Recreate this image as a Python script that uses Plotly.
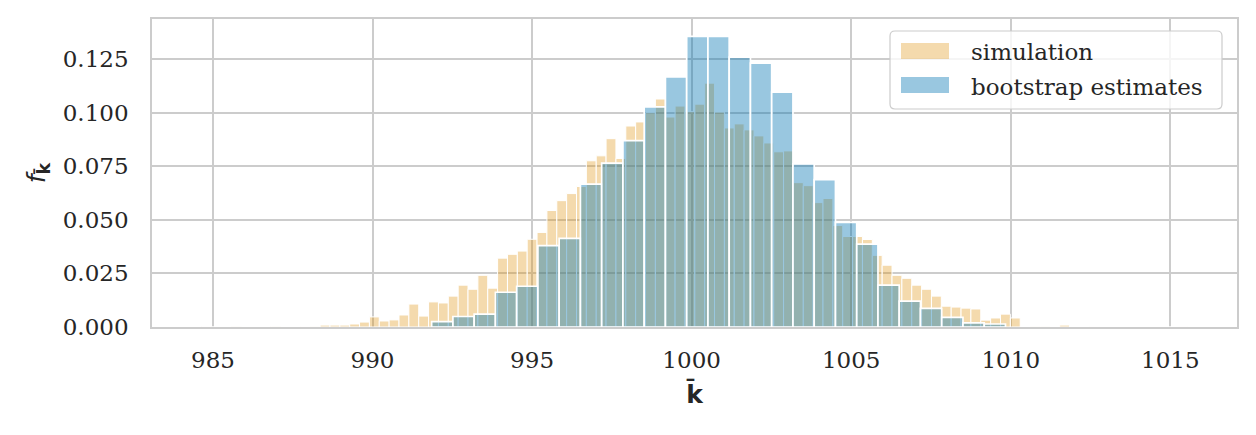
import plotly.graph_objects as go

# histogram heights (density)
sim_bin_start = 984.65
sim_bin_width = 0.309
sim_density = [
    0.0002, 0.0, 0.0, 0.0003, 0.0, 0.0, 0.0, 0.0003, 0.0, 0.0,
    0.0002, 0.0003, 0.0009, 0.0009, 0.0009, 0.0014, 0.0023, 0.0047, 0.0028, 0.0033,
    0.0056, 0.0107, 0.0051, 0.0117, 0.0112, 0.0144, 0.0195, 0.0176, 0.0241, 0.0181,
    0.0321, 0.0339, 0.0354, 0.0409, 0.0441, 0.0543, 0.0589, 0.0622, 0.0655, 0.0775,
    0.0798, 0.0878, 0.0786, 0.0937, 0.0956, 0.0999, 0.1063, 0.0979, 0.1030, 0.1004,
    0.1039, 0.1137, 0.1002, 0.0928, 0.0947, 0.0919, 0.0891, 0.0858, 0.0817, 0.0821,
    0.0673, 0.0659, 0.0580, 0.0599, 0.0473, 0.0422, 0.0422, 0.0408, 0.0334, 0.0288,
    0.0241, 0.0227, 0.0195, 0.0176, 0.0144, 0.0097, 0.0093, 0.0088, 0.0084, 0.0032,
    0.0042, 0.0060, 0.0042, 0.0, 0.0003, 0.0003, 0.0, 0.0009, 0.0, 0.0,
    0.0002, 0.0, 0.0, 0.0, 0.0, 0.0, 0.0, 0.0, 0.0, 0.0002,
]

boot_bin_start = 991.853
boot_bin_width = 0.666
boot_density = [
    0.0025, 0.0049, 0.0060, 0.0162, 0.0190, 0.0379, 0.0413, 0.0666, 0.0764, 0.0869,
    0.1026, 0.1166, 0.1355, 0.1355, 0.1258, 0.1230, 0.1095, 0.0761, 0.0687, 0.0488,
    0.0386, 0.0195, 0.0121, 0.0087, 0.0045, 0.0019, 0.0014,
]

x_ticks = [985, 990, 995, 1000, 1005, 1010, 1015]
y_ticks = [0.0, 0.025, 0.05, 0.075, 0.1, 0.125]
legend_labels = ["simulation", "bootstrap estimates"]

sim_x = [sim_bin_start + (i + 0.5) * sim_bin_width for i in range(len(sim_density))]
boot_x = [boot_bin_start + (i + 0.5) * boot_bin_width for i in range(len(boot_density))]

orange = "rgba(222,143,5,0.33)"
blue = "rgba(1,115,178,0.4)"
grid = "#cccccc"
txt = "#262626"

fig = go.Figure()
fig.add_trace(go.Bar(x=sim_x, y=sim_density, width=sim_bin_width, name=legend_labels[0],
                     marker=dict(color=orange, line=dict(color="white", width=1))))
fig.add_trace(go.Bar(x=boot_x, y=boot_density, width=boot_bin_width, name=legend_labels[1],
                     marker=dict(color=blue, line=dict(color="white", width=1.7))))

# plot area in pixels: 152..1237 x 19..327
W, H = 1085.0, 308.0
def px(x):
    return (x - 152) / W
def py(y):
    return (327 - y) / H

# legend drawn by hand so the swatches get the wide matplotlib shape
lx0, lx1, ly0, ly1 = px(890), px(1222), py(109), py(31)
rx, ry = 5 / W, 5 / H
box = (f"M{lx0+rx},{ly1} L{lx1-rx},{ly1} Q{lx1},{ly1} {lx1},{ly1-ry} "
       f"L{lx1},{ly0+ry} Q{lx1},{ly0} {lx1-rx},{ly0} L{lx0+rx},{ly0} "
       f"Q{lx0},{ly0} {lx0},{ly0+ry} L{lx0},{ly1-ry} Q{lx0},{ly1} {lx0+rx},{ly1} Z")
shapes = [
    dict(type="path", xref="paper", yref="paper", path=box, layer="above",
         fillcolor="rgba(255,255,255,0.8)", line=dict(color=grid, width=1.2)),
    dict(type="rect", xref="paper", yref="paper", layer="above",
         x0=px(901), x1=px(949), y0=py(59), y1=py(43),
         fillcolor=orange, line=dict(width=0)),
    dict(type="rect", xref="paper", yref="paper", layer="above",
         x0=px(901), x1=px(949), y0=py(93), y1=py(77),
         fillcolor=blue, line=dict(width=0)),
]
annotations = [
    dict(text=legend_labels[0], xref="paper", yref="paper", x=px(969), y=py(52),
         xanchor="left", yanchor="middle", showarrow=False,
         font=dict(family="DejaVu Serif", size=23, color=txt)),
    dict(text=legend_labels[1], xref="paper", yref="paper", x=px(969), y=py(87),
         xanchor="left", yanchor="middle", showarrow=False,
         font=dict(family="DejaVu Serif", size=23, color=txt)),
]

fig.update_layout(
    width=1256, height=435,
    margin=dict(l=152, r=19, t=19, b=108),
    barmode="overlay",
    showlegend=False,
    plot_bgcolor="white", paper_bgcolor="white",
    font=dict(family="DejaVu Serif", size=23, color=txt),
    shapes=shapes,
    annotations=annotations,
)
fig.update_xaxes(
    range=[983.09, 1017.09], tickvals=x_ticks,
    showgrid=True, gridcolor=grid, gridwidth=1.6,
    showline=True, linecolor=grid, linewidth=1.6, mirror=True, zeroline=False,
    ticks="outside", ticklen=12, tickcolor="rgba(0,0,0,0)",
    tickfont=dict(family="DejaVu Serif", size=23, color=txt),
    title=dict(text="<b>k\u0304</b>", font=dict(family="DejaVu Sans", size=25, color=txt), standoff=13),
)
fig.update_yaxes(
    range=[0, 0.1436], tickvals=y_ticks, tickformat=".3f",
    showgrid=True, gridcolor=grid, gridwidth=1.6,
    showline=True, linecolor=grid, linewidth=1.6, mirror=True, zeroline=False,
    ticks="outside", ticklen=17, tickcolor="rgba(0,0,0,0)",
    tickfont=dict(family="DejaVu Serif", size=23, color=txt),
    title=dict(text="<i>f</i><sub><b>k\u0304</b></sub>", font=dict(family="DejaVu Sans", size=25, color=txt), standoff=10),
)

fig.write_html("out.html", config={"displayModeBar": False},
               post_script="document.body.style.margin='0';")
